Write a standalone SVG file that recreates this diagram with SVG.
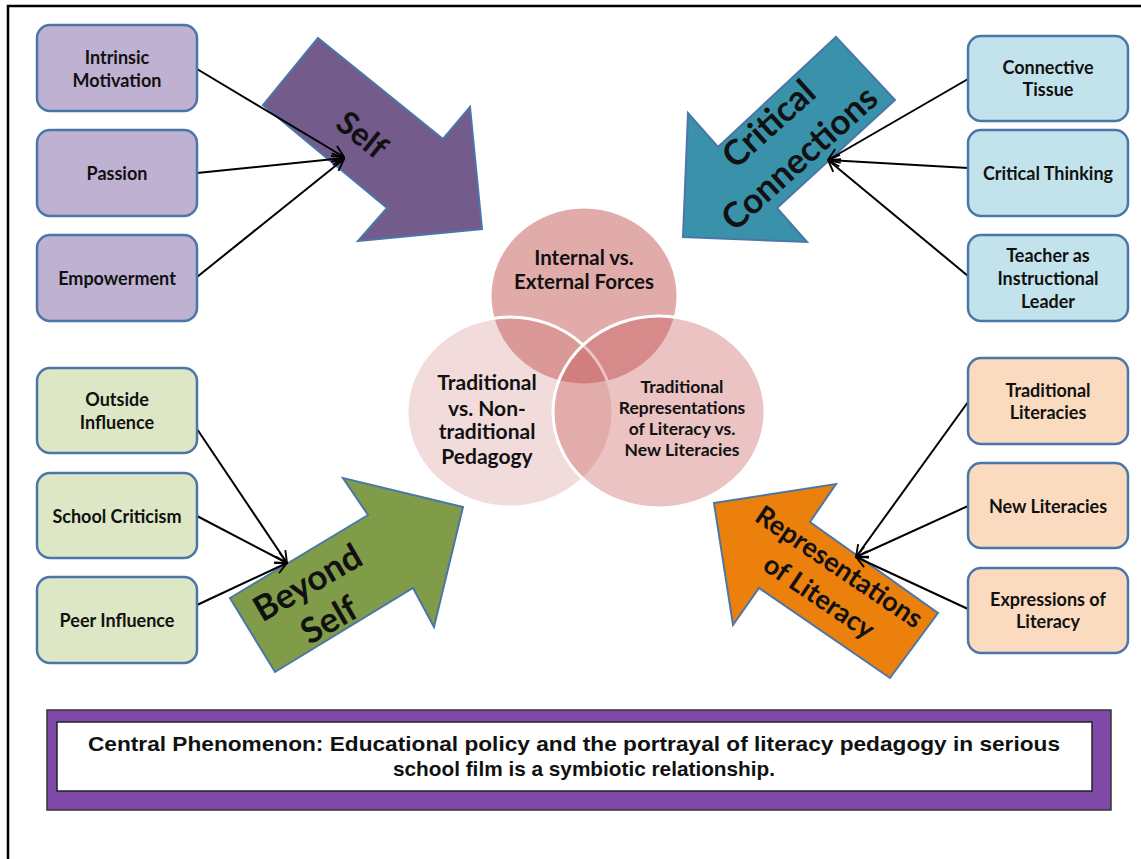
<svg xmlns="http://www.w3.org/2000/svg" width="1141" height="859" viewBox="0 0 1141 859">
<defs>
<marker id="ah" markerUnits="userSpaceOnUse" markerWidth="14" markerHeight="14" viewBox="0 0 12 12" refX="11" refY="6" orient="auto">
<path d="M1,1 L11,6 L1,11" fill="none" stroke="#000" stroke-width="1.6"/>
</marker>
<style>
.box{stroke:#4A76A8;stroke-width:2.5}
.pu{fill:#BFB1D1}.bl{fill:#C3E3EC}.gr{fill:#DDE7C6}.pe{fill:#FBDBBF}
.t{font-family:Lato,"Liberation Sans",sans-serif;font-weight:bold;font-size:18px;fill:#111;text-anchor:middle}
.arr{stroke:#4A76A8;stroke-width:2}
.at{font-family:Lato,"Liberation Sans",sans-serif;font-weight:bold;fill:#111;text-anchor:middle}
.cn{stroke:#000;stroke-width:2;fill:none;marker-end:url(#ah)}
.vc{fill:#C0504D;stroke:#fff;stroke-width:3}
.vt{font-family:Lato,"Liberation Sans",sans-serif;font-weight:bold;fill:#111;text-anchor:middle}
</style>
</defs>
<rect width="1141" height="859" fill="#fff"/>
<path d="M8,859 V6 H1141" fill="none" stroke="#000" stroke-width="2.5"/>

<g id="venn">
<ellipse class="vc" cx="584" cy="296" rx="94" ry="89" fill-opacity="0.48"/>
<ellipse class="vc" cx="510" cy="412" rx="103" ry="95" fill-opacity="0.2"/>
<ellipse class="vc" cx="659" cy="412" rx="106" ry="96" fill-opacity="0.34"/>
<text class="vt" font-size="20.5"><tspan x="584" y="265">Internal vs.</tspan><tspan x="584" y="289">External Forces</tspan></text>
<text class="vt" font-size="21"><tspan x="487" y="390">Traditional</tspan><tspan x="487" y="416">vs. Non-</tspan><tspan x="487" y="439">traditional</tspan><tspan x="487" y="464">Pedagogy</tspan></text>
<text class="vt" font-size="17.5"><tspan x="682" y="393">Traditional</tspan><tspan x="682" y="414">Representations</tspan><tspan x="682" y="435">of Literacy vs.</tspan><tspan x="682" y="456">New Literacies</tspan></text>
</g>

<g id="arrow-self">
<polygon class="arr" fill="#735B8C" points="318,38 443,139 470,107 482,229 358,241 387,208 263,105"/>
<text class="at" font-size="32" transform="translate(362,135) rotate(39)" y="11">Self</text>
</g>
<g id="arrow-critical">
<polygon class="arr" fill="#3A91AA" points="836,37 895,100 777,208 807,242 683,237 688,113 718,147"/>
<g transform="translate(784,141) rotate(-42)">
<text class="at" font-size="35" y="-11">Critical</text>
<text class="at" font-size="35" y="35">Connections</text>
</g>
</g>
<g id="arrow-beyond">
<polygon class="arr" fill="#809C48" points="230,598 368,515 343,478 463,507 434,627 413,588 275,672"/>
<g transform="translate(318,601) rotate(-30)">
<text class="at" font-size="35" y="-9">Beyond</text>
<text class="at" font-size="35" y="34">Self</text>
</g>
</g>
<g id="arrow-repr">
<polygon class="arr" fill="#EC800D" points="714,503 836,484 810,522 938,613 890,678 759,588 733,625"/>
<g transform="translate(829,582) rotate(34)">
<text class="at" font-size="27" y="-9">Representations</text>
<text class="at" font-size="27" y="27">of Literacy</text>
</g>
</g>

<g id="connectors">
<line class="cn" x1="197" y1="69" x2="344" y2="157"/>
<line class="cn" x1="197" y1="173" x2="344" y2="158"/>
<line class="cn" x1="197" y1="277" x2="344" y2="159"/>
<line class="cn" x1="968" y1="79" x2="828" y2="160"/>
<line class="cn" x1="968" y1="168" x2="828" y2="160"/>
<line class="cn" x1="968" y1="276" x2="828" y2="160"/>
<line class="cn" x1="197" y1="429" x2="287" y2="563"/>
<line class="cn" x1="197" y1="516" x2="287" y2="563"/>
<line class="cn" x1="197" y1="605" x2="287" y2="563"/>
<line class="cn" x1="968" y1="402" x2="856" y2="557"/>
<line class="cn" x1="968" y1="506" x2="856" y2="557"/>
<line class="cn" x1="968" y1="609" x2="856" y2="557"/>
</g>

<g id="n-intrinsic"><rect class="box pu" x="37" y="25" width="160" height="86" rx="13"/><text class="t"><tspan x="117" y="64">Intrinsic</tspan><tspan x="117" y="87">Motivation</tspan></text></g>
<g id="n-passion"><rect class="box pu" x="37" y="130" width="160" height="86" rx="13"/><text class="t" x="117" y="180">Passion</text></g>
<g id="n-empowerment"><rect class="box pu" x="37" y="235" width="160" height="86" rx="13"/><text class="t" x="117" y="285">Empowerment</text></g>

<g id="n-connective"><rect class="box bl" x="968" y="36" width="160" height="85" rx="13"/><text class="t"><tspan x="1048" y="74">Connective</tspan><tspan x="1048" y="96">Tissue</tspan></text></g>
<g id="n-critical"><rect class="box bl" x="968" y="130" width="160" height="86" rx="13"/><text class="t" x="1048" y="180">Critical Thinking</text></g>
<g id="n-teacher"><rect class="box bl" x="968" y="235" width="160" height="86" rx="13"/><text class="t"><tspan x="1048" y="262">Teacher as</tspan><tspan x="1048" y="285">Instructional</tspan><tspan x="1048" y="308">Leader</tspan></text></g>

<g id="n-outside"><rect class="box gr" x="37" y="368" width="160" height="85" rx="13"/><text class="t"><tspan x="117" y="406">Outside</tspan><tspan x="117" y="429">Influence</tspan></text></g>
<g id="n-school"><rect class="box gr" x="37" y="473" width="160" height="85" rx="13"/><text class="t" x="117" y="523">School Criticism</text></g>
<g id="n-peer"><rect class="box gr" x="37" y="577" width="160" height="86" rx="13"/><text class="t" x="117" y="627">Peer Influence</text></g>

<g id="n-tradlit"><rect class="box pe" x="968" y="358" width="160" height="86" rx="13"/><text class="t"><tspan x="1048" y="397">Traditional</tspan><tspan x="1048" y="419">Literacies</tspan></text></g>
<g id="n-newlit"><rect class="box pe" x="968" y="463" width="160" height="85" rx="13"/><text class="t" x="1048" y="513">New Literacies</text></g>
<g id="n-expr"><rect class="box pe" x="968" y="568" width="160" height="85" rx="13"/><text class="t"><tspan x="1048" y="606">Expressions of</tspan><tspan x="1048" y="628">Literacy</tspan></text></g>

<g id="central">
<rect x="47" y="710" width="1064" height="100" fill="#7F49A8" stroke="#333" stroke-width="1.5"/>
<rect x="57" y="722" width="1035" height="69" fill="#fff" stroke="#222" stroke-width="1.5"/>
<text font-family="'Liberation Sans',sans-serif" font-weight="bold" font-size="21" fill="#111" text-anchor="middle"><tspan x="574" y="751" textLength="972" lengthAdjust="spacingAndGlyphs">Central Phenomenon: Educational policy and the portrayal of literacy pedagogy in serious</tspan><tspan x="584" y="776" textLength="382" lengthAdjust="spacingAndGlyphs">school film is a symbiotic relationship.</tspan></text>
</g>
</svg>
